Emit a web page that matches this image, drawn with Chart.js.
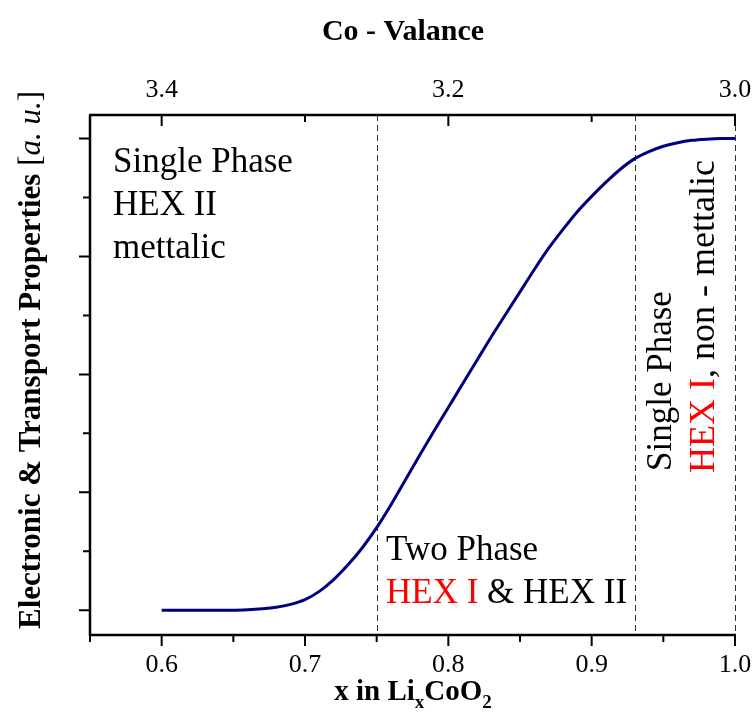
<!DOCTYPE html>
<html>
<head>
<meta charset="utf-8">
<script src="https://cdn.jsdelivr.net/npm/chart.js@4/dist/chart.umd.min.js"></script>
<style>
  html, body { margin: 0; padding: 0; background: #ffffff; }
  #wrap { width: 752px; height: 713px; }
</style>
</head>
<body>
<div id="wrap"><canvas id="chart" width="752" height="713"></canvas></div>
<script>
// Lithium content x in LixCoO2
const liContent = [
  0.60, 0.61, 0.62, 0.63, 0.64, 0.65, 0.66, 0.67, 0.68, 0.69,
  0.70, 0.71, 0.72, 0.73, 0.74, 0.75, 0.76, 0.77, 0.78, 0.79,
  0.80, 0.81, 0.82, 0.83, 0.84, 0.85, 0.86, 0.87, 0.88, 0.89,
  0.90, 0.91, 0.92, 0.93, 0.94, 0.95, 0.96, 0.97, 0.98, 0.99, 1.00
];
// Electronic & transport properties (arbitrary units)
const propertyLevel = [
  0, 0, 0, 0, 0, 0, 0.004, 0.012, 0.025, 0.05,
  0.09, 0.16, 0.26, 0.385, 0.53, 0.70, 0.895, 1.105, 1.315, 1.52,
  1.72, 1.92, 2.12, 2.32, 2.51, 2.70, 2.89, 3.07, 3.23, 3.38,
  3.51, 3.63, 3.74, 3.83, 3.89, 3.935, 3.965, 3.985, 3.995, 4.0, 4.0
];

// Axis ticks
const bottomTicks = [0.6, 0.7, 0.8, 0.9, 1.0];
const bottomMinorTicks = [0.55, 0.65, 0.75, 0.85, 0.95];
const topTicks = [3.4, 3.2, 3.0];
const topMinorTicks = [3.3, 3.1];
const leftTicks = [0, 1, 2, 3, 4];
const leftMinorTicks = [0.5, 1.5, 2.5, 3.5];

// Phase boundaries (dashed)
const phaseBoundaries = [0.75, 0.93, 1.0];

const SERIF = '"Liberation Serif", "Times New Roman", serif';

function drawRuns(ctx, runs, x, y) {
  let cx = x;
  runs.forEach(r => {
    ctx.font = r.font;
    ctx.fillStyle = r.color;
    ctx.fillText(r.text, cx, y);
    cx += ctx.measureText(r.text).width;
  });
}
function runsWidth(ctx, runs) {
  let w = 0;
  runs.forEach(r => { ctx.font = r.font; w += ctx.measureText(r.text).width; });
  return w;
}

const framePlugin = {
  id: 'frame',
  beforeDatasetsDraw(chart) {
    const { ctx, chartArea: a, scales } = chart;
    ctx.save();
    ctx.strokeStyle = '#333333';
    ctx.lineWidth = 1;
    ctx.setLineDash([6, 4]);
    phaseBoundaries.forEach(v => {
      const px = Math.round(scales.x.getPixelForValue(v)) + 0.5;
      ctx.beginPath();
      ctx.moveTo(px, a.top);
      ctx.lineTo(px, a.bottom);
      ctx.stroke();
    });
    ctx.restore();
  },
  afterDraw(chart) {
    const { ctx, chartArea: a, scales } = chart;
    const xs = scales.x, xt = scales.xTop, ys = scales.y;
    ctx.save();
    ctx.strokeStyle = '#000000';
    ctx.lineWidth = 2.5;
    ctx.lineCap = 'butt';
    // axis lines
    ctx.beginPath();
    ctx.moveTo(a.left, a.top); ctx.lineTo(a.left, a.bottom + 1);
    ctx.moveTo(a.left - 1, a.top); ctx.lineTo(a.right + 1, a.top);
    ctx.moveTo(a.left - 1, a.bottom); ctx.lineTo(a.right + 1, a.bottom);
    ctx.stroke();

    // bottom ticks (outward)
    ctx.lineWidth = 2;
    ctx.beginPath();
    bottomTicks.forEach(v => { const p = xs.getPixelForValue(v); ctx.moveTo(p, a.bottom); ctx.lineTo(p, a.bottom + 11); });
    bottomMinorTicks.forEach(v => { const p = xs.getPixelForValue(v); ctx.moveTo(p, a.bottom); ctx.lineTo(p, a.bottom + 7); });
    // top ticks (inward)
    topTicks.forEach(v => { const p = xt.getPixelForValue(v); ctx.moveTo(p, a.top); ctx.lineTo(p, a.top + 11); });
    topMinorTicks.forEach(v => { const p = xt.getPixelForValue(v); ctx.moveTo(p, a.top); ctx.lineTo(p, a.top + 7); });
    // left ticks (outward)
    leftTicks.forEach(v => { const p = ys.getPixelForValue(v); ctx.moveTo(a.left, p); ctx.lineTo(a.left - 11, p); });
    leftMinorTicks.forEach(v => { const p = ys.getPixelForValue(v); ctx.moveTo(a.left, p); ctx.lineTo(a.left - 7, p); });
    ctx.stroke();

    // tick labels
    ctx.fillStyle = '#000000';
    ctx.font = '26px ' + SERIF;
    ctx.textAlign = 'center';
    ctx.textBaseline = 'middle';
    bottomTicks.forEach(v => ctx.fillText(v.toFixed(1), xs.getPixelForValue(v), a.bottom + 30));
    topTicks.forEach(v => ctx.fillText(v.toFixed(1), xt.getPixelForValue(v), a.top - 25));

    // top title
    ctx.font = 'bold 30px ' + SERIF;
    ctx.textBaseline = 'alphabetic';
    ctx.fillText('Co - Valance', 403, 40);

    // bottom title with subscripts
    ctx.textAlign = 'left';
    const bMain = 'bold 29px ' + SERIF, bSub = 'bold 19px ' + SERIF;
    const bottomRuns = [
      { text: 'x in Li', font: bMain, dy: 0 },
      { text: 'x', font: bSub, dy: 8 },
      { text: 'CoO', font: bMain, dy: 0 },
      { text: '2', font: bSub, dy: 8 }
    ];
    let bw = 0;
    bottomRuns.forEach(r => { ctx.font = r.font; bw += ctx.measureText(r.text).width; });
    let bx = 413 - bw / 2;
    bottomRuns.forEach(r => {
      ctx.font = r.font;
      ctx.fillText(r.text, bx, 700 + r.dy);
      bx += ctx.measureText(r.text).width;
    });

    // left title, rotated
    const yRuns = [
      { text: 'Electronic & Transport Properties ', font: 'bold 31px ' + SERIF, color: '#000' },
      { text: '[', font: '31px ' + SERIF, color: '#000' },
      { text: 'a. u.', font: 'italic 31px ' + SERIF, color: '#000' },
      { text: ']', font: '31px ' + SERIF, color: '#000' }
    ];
    const yw = runsWidth(ctx, yRuns);
    ctx.save();
    ctx.translate(40, 360);
    ctx.rotate(-Math.PI / 2);
    drawRuns(ctx, yRuns, -yw / 2, 0);
    ctx.restore();

    // region labels
    const reg = '35px ' + SERIF;
    ctx.fillStyle = '#000';
    ctx.font = reg;
    ctx.fillText('Single Phase', 113, 172);
    ctx.fillText('HEX II', 113, 215);
    ctx.fillText('mettalic', 113, 258);

    ctx.fillText('Two Phase', 386, 560);
    drawRuns(ctx, [
      { text: 'HEX I', font: reg, color: '#ff0000' },
      { text: ' & HEX II', font: reg, color: '#000000' }
    ], 386, 603);

    ctx.save();
    ctx.translate(671, 471);
    ctx.rotate(-Math.PI / 2);
    ctx.font = reg;
    ctx.fillStyle = '#000';
    ctx.fillText('Single Phase', 0, 0);
    ctx.restore();

    const reg2 = '36px ' + SERIF;
    ctx.save();
    ctx.translate(714, 473);
    ctx.rotate(-Math.PI / 2);
    drawRuns(ctx, [
      { text: 'HEX I', font: reg2, color: '#ff0000' },
      { text: ', non - mettalic', font: reg2, color: '#000000' }
    ], 0, 0);
    ctx.restore();

    ctx.restore();
  }
};

new Chart(document.getElementById('chart').getContext('2d'), {
  type: 'line',
  data: {
    datasets: [{
      data: liContent.map((x, i) => ({ x: x, y: propertyLevel[i] })),
      borderColor: '#00007f',
      borderWidth: 3,
      pointRadius: 0,
      fill: false,
      cubicInterpolationMode: 'monotone'
    }]
  },
  options: {
    responsive: false,
    animation: false,
    devicePixelRatio: 1,
    layout: { padding: { left: 90, top: 115, right: 17, bottom: 78 } },
    plugins: { legend: { display: false }, tooltip: { enabled: false } },
    scales: {
      x: { type: 'linear', min: 0.55, max: 1.0, display: false },
      xTop: { type: 'linear', axis: 'x', position: 'top', min: 3.0, max: 3.45, reverse: true, display: false },
      y: { type: 'linear', min: -0.21, max: 4.2, display: false }
    }
  },
  plugins: [framePlugin]
});
</script>
</body>
</html>
